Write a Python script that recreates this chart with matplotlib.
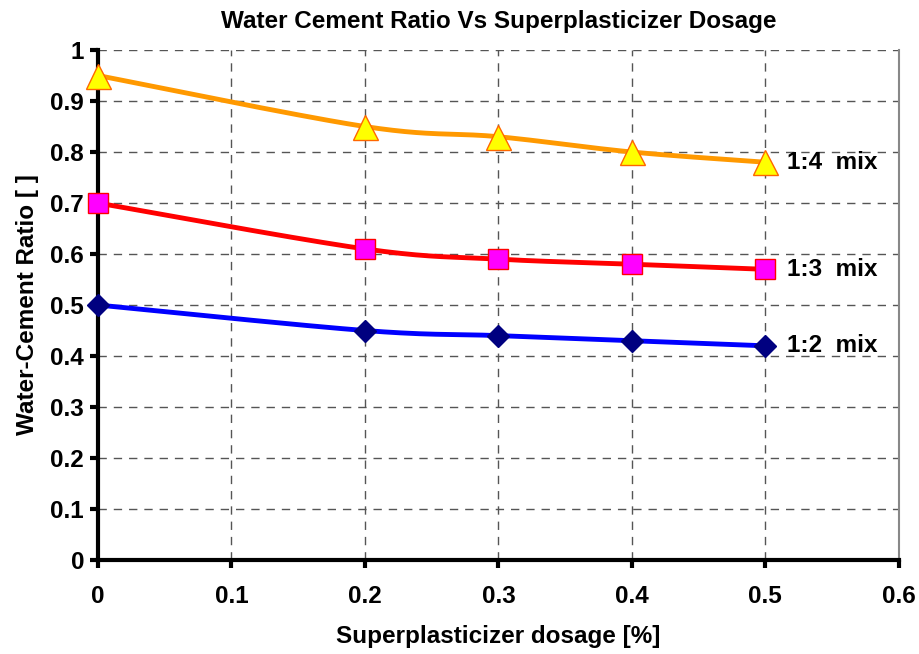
import numpy as np
import matplotlib.pyplot as plt

# data
dosage = [0, 0.2, 0.3, 0.4, 0.5]
mix_14 = [0.95, 0.85, 0.83, 0.80, 0.78]
mix_13 = [0.70, 0.61, 0.59, 0.58, 0.57]
mix_12 = [0.50, 0.45, 0.44, 0.43, 0.42]
labels = ["1:4  mix", "1:3  mix", "1:2  mix"]


def smooth(xs, ys, n=40):
    """Catmull-Rom style smoothing like the Excel 'smoothed line' option"""
    xs = np.asarray(xs, float)
    ys = np.asarray(ys, float)
    px = np.concatenate([[xs[0]], xs, [xs[-1]]])
    py = np.concatenate([[ys[0]], ys, [ys[-1]]])
    outx, outy = [], []
    for i in range(1, len(px) - 2):
        t = np.linspace(0, 1, n)
        # bezier control points
        c1x = px[i] + (px[i + 1] - px[i - 1]) / 6.0
        c1y = py[i] + (py[i + 1] - py[i - 1]) / 6.0
        c2x = px[i + 1] - (px[i + 2] - px[i]) / 6.0
        c2y = py[i + 1] - (py[i + 2] - py[i]) / 6.0
        bx = ((1 - t) ** 3) * px[i] + 3 * ((1 - t) ** 2) * t * c1x + 3 * (1 - t) * t ** 2 * c2x + t ** 3 * px[i + 1]
        by = ((1 - t) ** 3) * py[i] + 3 * ((1 - t) ** 2) * t * c1y + 3 * (1 - t) * t ** 2 * c2y + t ** 3 * py[i + 1]
        outx.extend(bx)
        outy.extend(by)
    return outx, outy


plt.rcParams['font.family'] = ['Liberation Sans', 'DejaVu Sans']
plt.rcParams['font.weight'] = 'bold'
FS = 17.5

fig = plt.figure(figsize=(9.2, 6.54), dpi=100)
ax = fig.add_axes([0.1065, 0.1437, 0.8705, 0.7798])

series = [
    (mix_14, "#FF9900", "^", "#FFFF00", "#FF6600", 18),
    (mix_13, "#FF0000", "s", "#FF00FF", "#FF0000", 14),
    (mix_12, "#0000FF", "D", "#000080", "#000080", 11),
]
for (vals, lc, mk, mfc, mec, ms), lab in zip(series, labels):
    sx, sy = smooth(dosage, vals)
    ax.plot(sx, sy, color=lc, lw=3.5, zorder=3, solid_capstyle='round')
    ax.plot(dosage, vals, ls='none', marker=mk, ms=ms, mfc=mfc, mec=mec,
            mew=1, zorder=4, clip_on=False)
    ax.text(dosage[-1] + 0.016, vals[-1], lab, fontsize=FS, fontweight='bold',
            va='center', ha='left')

ax.set_xlim(0, 0.6)
ax.set_ylim(0, 1)
ax.set_xticks(np.arange(0, 0.61, 0.1))
ax.set_yticks(np.arange(0, 1.01, 0.1))
ax.set_xticklabels(["0", "0.1", "0.2", "0.3", "0.4", "0.5", "0.6"])
ax.set_yticklabels(["0", "0.1", "0.2", "0.3", "0.4", "0.5", "0.6", "0.7", "0.8", "0.9", "1"])
ax.tick_params(axis='both', labelsize=FS, width=3, length=6, direction='out')
ax.tick_params(axis='x', pad=12)
ax.tick_params(axis='y', pad=4)

ax.grid(True, color='#555555', ls=(0, (6, 5)), lw=1)
ax.set_axisbelow(True)

ax.spines['left'].set_linewidth(3)
ax.spines['bottom'].set_linewidth(3)
ax.spines['top'].set_visible(False)
ax.spines['right'].set_color('#888888')
ax.spines['right'].set_linewidth(1.5)

ax.set_title("Water Cement Ratio Vs Superplasticizer Dosage", fontsize=FS,
             fontweight='bold', pad=16)
ax.set_xlabel("Superplasticizer dosage [%]", fontsize=FS, fontweight='bold', labelpad=12)
ax.set_ylabel("Water-Cement Ratio [ ]", fontsize=FS, fontweight='bold', labelpad=8)

fig.savefig("out.png", dpi=100)
